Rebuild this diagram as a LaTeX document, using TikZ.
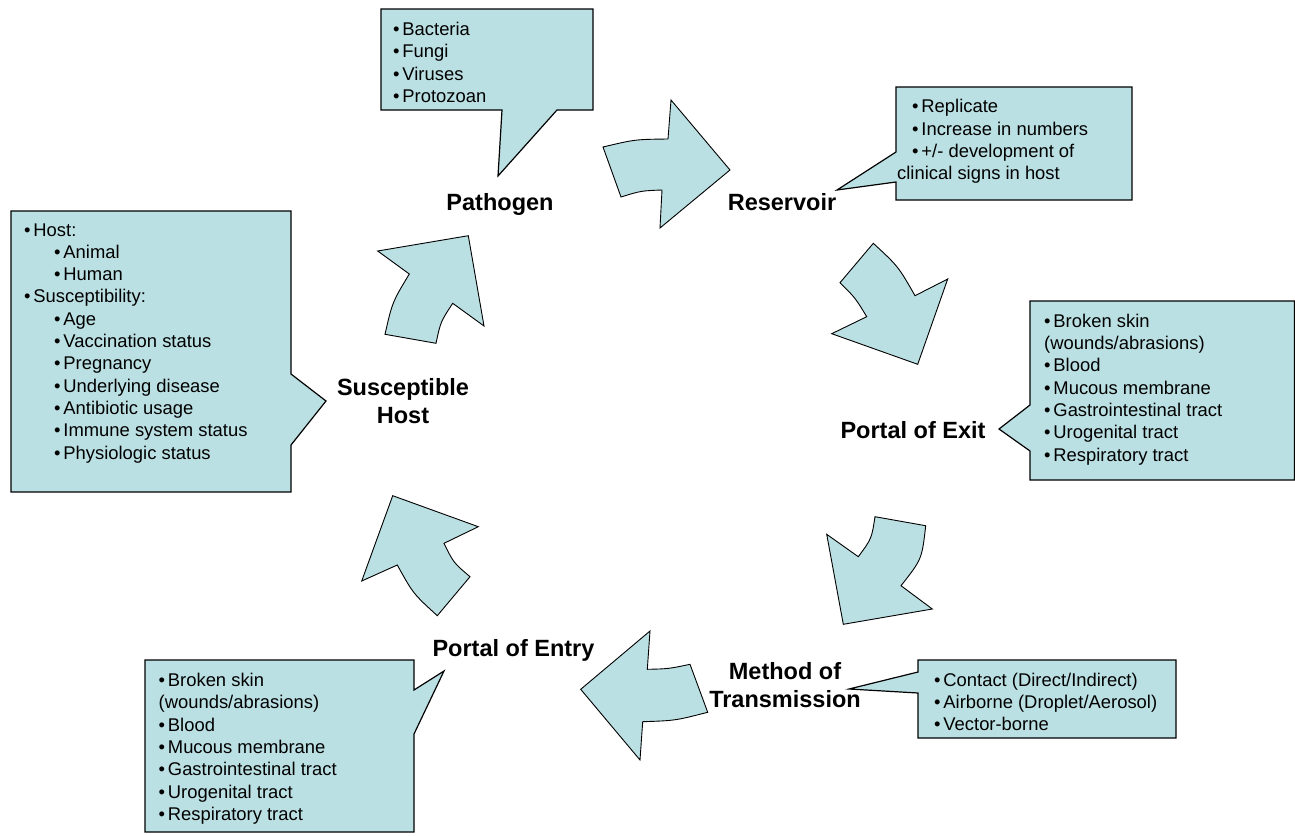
\documentclass[tikz,border=0pt]{standalone}
\usepackage{fontspec}
\setmainfont{Liberation Sans}
\definecolor{cyclefill}{RGB}{187,224,227}
\tikzstyle{stage} = [inner sep=0pt, anchor=north, align=center, font=\fontsize{23.5}{28}\selectfont\bfseries]
\tikzstyle{itemlist} = [inner sep=0pt, anchor=north west, align=left, font=\fontsize{18.4}{22.3}\selectfont]
\tikzstyle{callout} = [draw=black, fill=cyclefill, line width=1.2pt]
\tikzstyle{bigarrow} = [draw=black, fill=cyclefill, line width=0.9pt]
\newcommand{\bul}{\textbullet\hspace{2.8pt}}
\newcommand{\sub}{\hspace*{30pt}\textbullet\hspace{2.8pt}}

\begin{document}
\begin{tikzpicture}[x=1pt,y=-1pt]
\useasboundingbox (0,0) rectangle (1295,835);
% callout boxes
\draw [callout] (381,9) -- (593,9) -- (593,110) -- (557,110) -- (498,176) -- (502,110) -- (381,110) -- cycle;
\draw [callout] (896,87) -- (1132,87) -- (1132,200) -- (896,200) -- (896,182) -- (837,190) -- (896,152) -- cycle;
\draw [callout] (11,211) -- (291,211) -- (291,374) -- (326,401) -- (291,445) -- (291,492) -- (11,492) -- cycle;
\draw [callout] (1030,301) -- (1294.4,301) -- (1294.4,480) -- (1030,480) -- (1030,451) -- (999,429) -- (1030,405) -- cycle;
\draw [callout] (145,660) -- (414,660) -- (414,690) -- (444,671) -- (414,734) -- (414,832) -- (145,832) -- cycle;
\draw [callout] (918,660) -- (1176,660) -- (1176,738) -- (918,738) -- (918,693) -- (849,689) -- (918,672) -- cycle;
%
% curved block arrows of the cycle
\draw [bigarrow] (603,147) .. controls (635,139.4) .. (668,139) -- (671,100) -- (730,170) -- (660,228) -- (662,190) .. controls (641,190.8) .. (621,197) -- cycle;
\draw [bigarrow] (873.3,243.3) .. controls (898.2,266.3) .. (915,295.7) -- (947.7,279) -- (917.7,364.3) -- (831.7,333.7) -- (866.7,316.7) .. controls (855.4,298) .. (840,282.7) -- cycle;
\draw [bigarrow] (925.7,525.7) .. controls (921.9,559.2) .. (901,585.7) -- (932.3,609) -- (843.3,624.3) -- (826.7,534.3) -- (858.3,556.7) .. controls (871.6,538.7) .. (875,516.7) -- cycle;
\draw [bigarrow] (650,631) -- (647.3,669.3) .. controls (668.7,668.8) .. (690,664.3) -- (707.7,712.3) .. controls (675.2,720.6) .. (642.7,721.7) -- (640,760) -- (580.7,689.3) -- cycle;
\draw [bigarrow] (392.7,495.7) -- (478.3,526.7) -- (444,543.3) .. controls (453.5,562.7) .. (470,576.7) -- (437.3,615.7) .. controls (413.1,593.6) .. (397.3,565) -- (361.7,581) -- cycle;
\draw [bigarrow] (377.7,251) -- (468.3,235.7) -- (484,326) -- (452.7,303.3) .. controls (440.6,321.8) .. (436,343.3) -- (385,334.3) .. controls (392.3,302.2) .. (409.3,274) -- cycle;
%
% stages
\node (pathogen) at (500,193.4) [stage] {Pathogen};
\node (reservoir) at (782,193.4) [stage] {Reservoir};
\node (exit) at (913,421.2) [stage] {Portal of Exit};
\node (transmission) at (785,661.8) [stage] {Method of\\Transmission};
\node (entry) at (513.5,639.6) [stage] {Portal of Entry};
\node (host) at (403,377.8) [stage] {Susceptible\\Host};
%
% lists
\node (pathogenlist) at (393,22) [itemlist] {\bul Bacteria\\\bul Fungi\\\bul Viruses\\\bul Protozoan};
%
\node (reservoirlist) at (897,99.3) [itemlist] {\hspace*{15pt}\bul Replicate\\\hspace*{15pt}\bul Increase in numbers\\\hspace*{15pt}\bul +/- development of\\clinical signs in host};
%
\node (hostlist) at (24,223.2) [itemlist] {\bul Host:\\\sub Animal\\\sub Human\\\bul Susceptibility:\\\sub Age\\\sub Vaccination status\\\sub Pregnancy\\\sub Underlying disease\\\sub Antibiotic usage\\\sub Immune system status\\\sub Physiologic status};
%
\node (exitlist) at (1044,313.7) [itemlist] {\bul Broken skin\\(wounds/abrasions)\\\bul Blood\\\bul Mucous membrane\\\bul Gastrointestinal tract\\\bul Urogenital tract\\\bul Respiratory tract};
%
\node (entrylist) at (158.5,673) [itemlist] {\bul Broken skin\\(wounds/abrasions)\\\bul Blood\\\bul Mucous membrane\\\bul Gastrointestinal tract\\\bul Urogenital tract\\\bul Respiratory tract};
%
\node (transmissionlist) at (934,672.7) [itemlist] {\bul Contact (Direct/Indirect)\\\bul Airborne (Droplet/Aerosol)\\\bul Vector-borne};
\end{tikzpicture}
\end{document}
